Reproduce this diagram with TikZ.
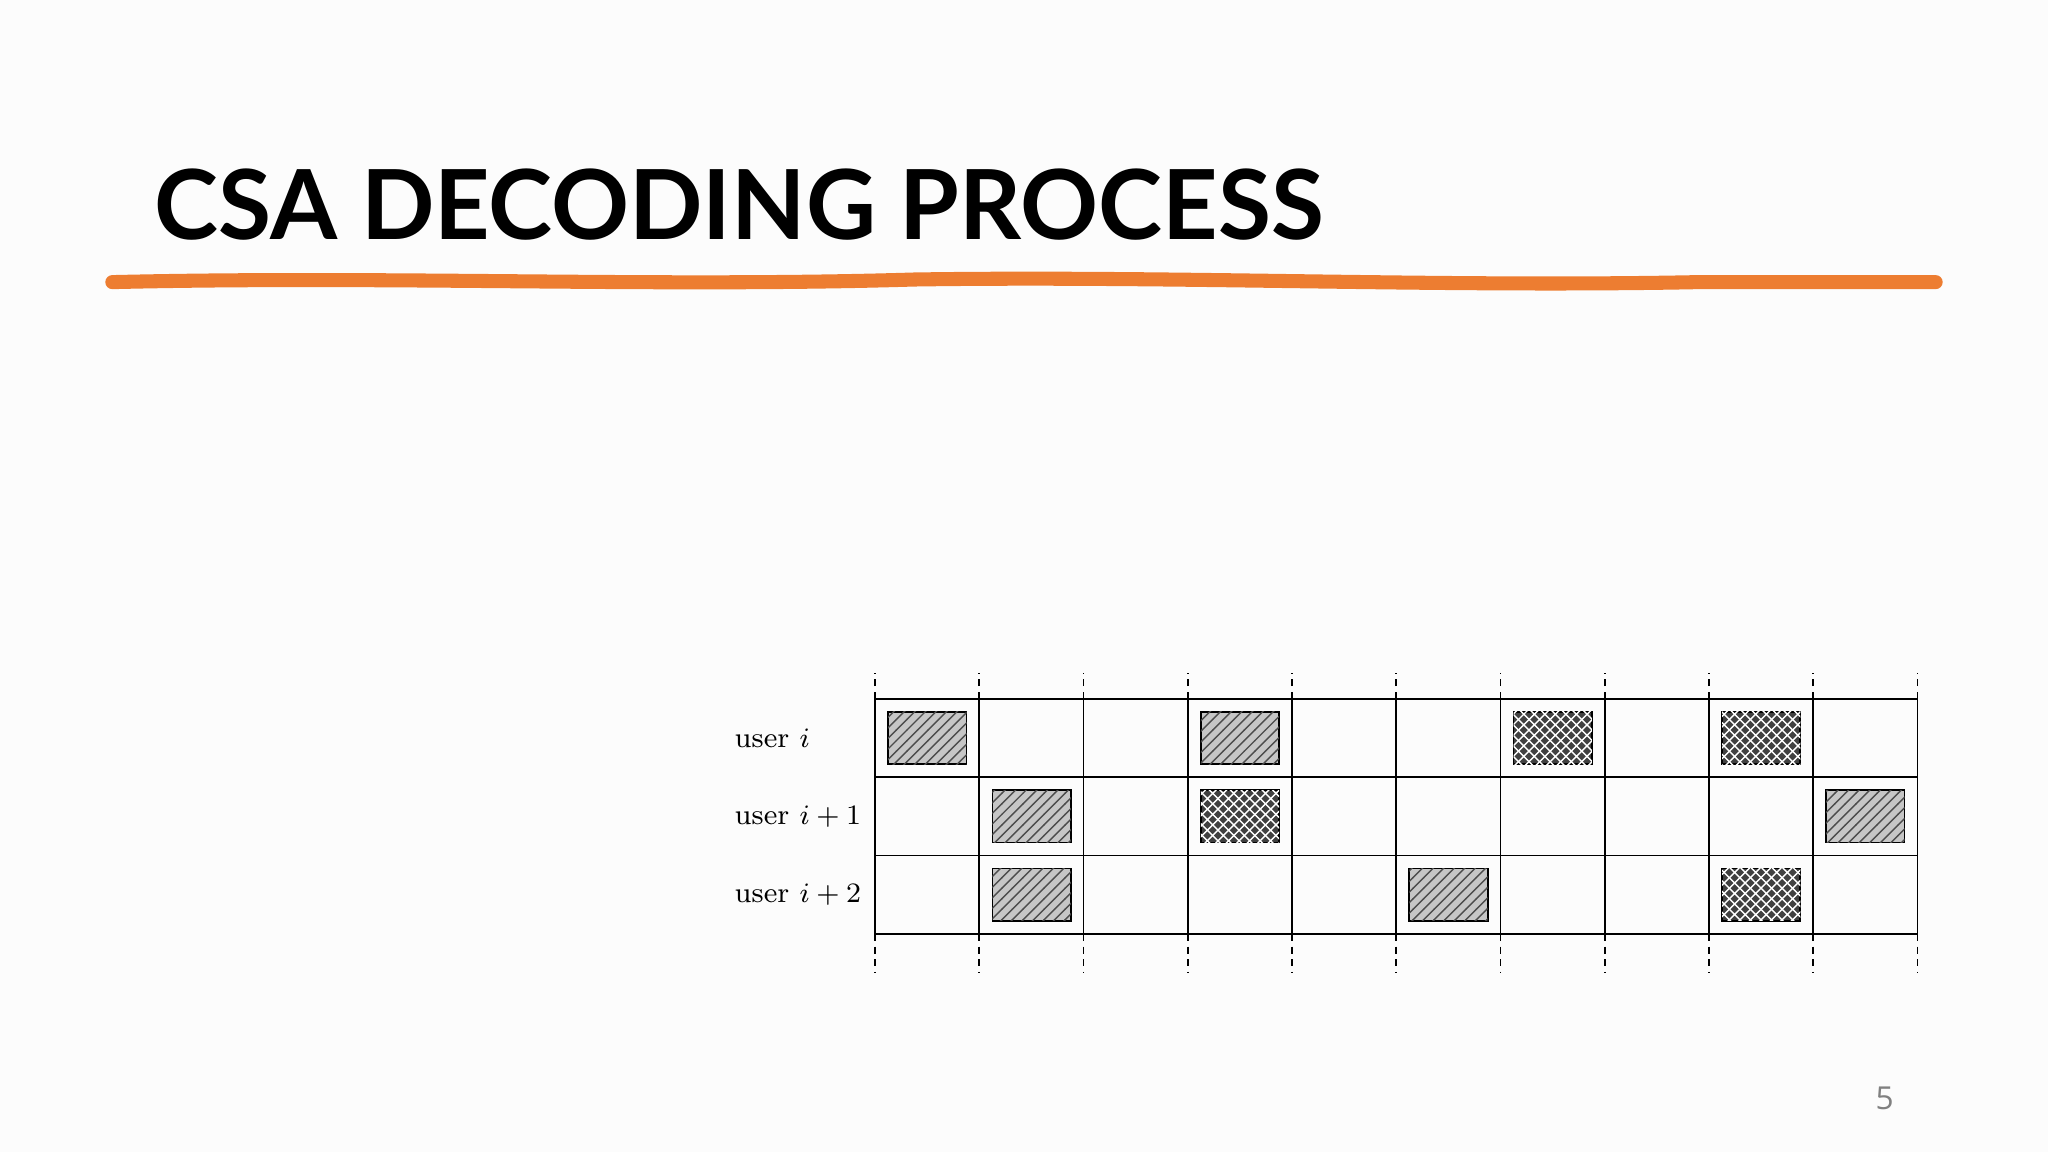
\documentclass[tikz,border=0pt]{standalone}
\usepackage{fontspec}
\newfontfamily\titlefont{Lato}
\newfontfamily\numfont{Open Sans}
\usetikzlibrary{patterns}
\definecolor{accent}{HTML}{ED7D31}
\begin{document}
\begin{tikzpicture}[x=0.01306cm,y=-0.01306cm,
  light/.style={draw=black,line width=0.5pt,fill=gray!45,postaction={pattern=north east lines,pattern color=black!70}},
  dark/.style={draw=black,line width=0.5pt,fill=black!75,postaction={pattern=crosshatch,pattern color=white!80}},
  grid/.style={line width=0.5pt},
  ext/.style={line width=0.5pt,dash pattern=on 2pt off 1.6pt},
  lab/.style={anchor=west,font=\fontsize{8.2}{10}\selectfont,inner sep=0pt}]
\useasboundingbox (0,0) rectangle (1568,882);
\fill[white!98!gray] (0,0) rectangle (1568,882);
\node[anchor=west,inner sep=0pt,font=\titlefont\bfseries\fontsize{27.5}{30}\selectfont] (title) at (118,157) {CSA DECODING PROCESS};
\draw[line width=4pt,color=accent,line cap=round]
  (86,216) .. controls (300,211) and (500,220) .. (700,214) .. controls (900,211) and (1100,220) .. (1300,216) -- (1482,216);
\node[font=\numfont\fontsize{9}{10}\selectfont,text=gray] (pg) at (1443,841) {5};
\foreach \i in {0,...,10}{
  \coordinate (t\i) at ({670+79.8*\i},535);
  \coordinate (b\i) at ({670+79.8*\i},715);
  \draw[grid] (t\i) -- (b\i);
  \draw[ext] (t\i) -- ++(0,-20);
  \draw[ext] (b\i) -- ++(0,30);
}
\foreach \r in {0,...,3}{
  \draw[grid] (670,{535+60*\r}) -- (1468,{535+60*\r});
}
\node[lab] (u0) at (562,565) {user $i$};
\node[lab] (u1) at (562,625) {user $i+1$};
\node[lab] (u2) at (562,685) {user $i+2$};
\foreach \c/\r in {0/0,3/0,1/1,9/1,1/2,5/2}{
  \path[light] ({680+79.8*\c},{545+60*\r}) rectangle ++(60,40);
}
\foreach \c/\r in {6/0,8/0,3/1,8/2}{
  \path[dark] ({680+79.8*\c},{545+60*\r}) rectangle ++(60,40);
}
\end{tikzpicture}
\end{document}
